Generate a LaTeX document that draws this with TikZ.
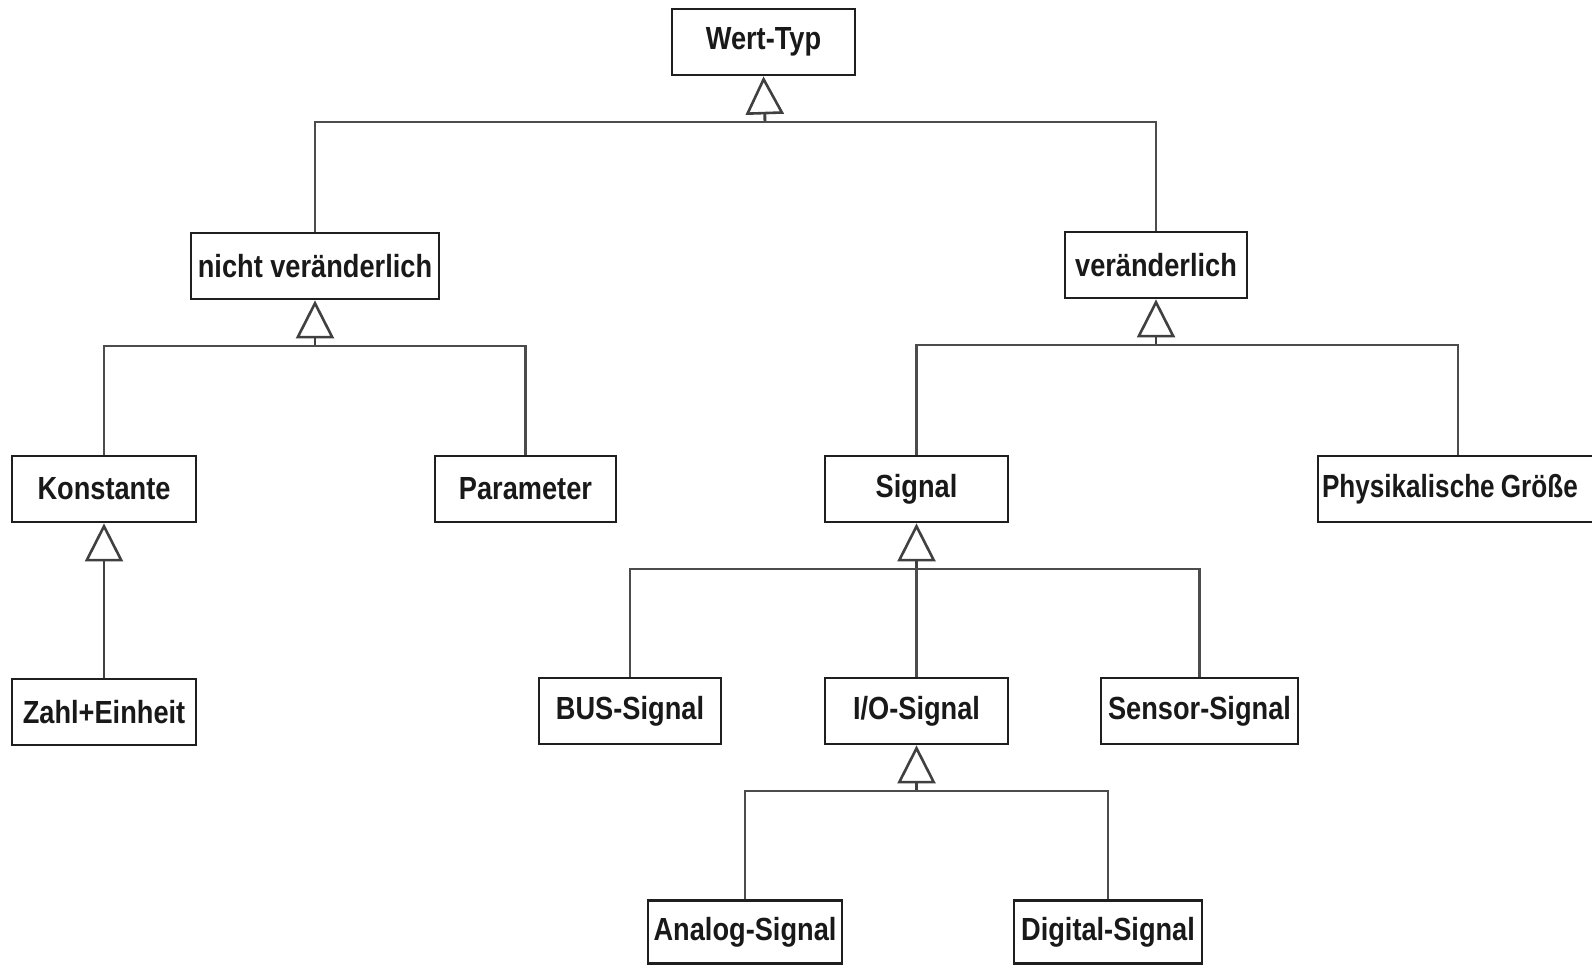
\documentclass[tikz,border=0pt]{standalone}
\usepackage{fontspec}
\setmainfont{Liberation Sans}[FakeStretch=0.85]
\usetikzlibrary{arrows.meta}
\begin{document}
\begin{tikzpicture}[x=1pt,y=-1pt,
  box/.style={draw=black!88,line width=2.8pt,fill=white,inner sep=0pt,minimum height=66pt,
    font=\fontsize{32}{38}\selectfont\bfseries,text=black!90},
  conn/.style={draw=black!70,line width=2.9pt},
  gen/.style={conn,-{Triangle[open,length=38pt,width=38pt,line width=2.6pt]},draw=black!75},
]
\useasboundingbox (0,0) rectangle (1592,965);
\fill[white] (0,0) rectangle (1592,965);
\begin{scope}
\clip (0,0) rectangle (1592,965);
% row 1
\node[box,minimum width=183pt] (wt) at (763.5,42) {Wert-Typ};
% row 2
\node[box,minimum width=248pt] (nv) at (315,266) {nicht veränderlich};
\node[box,minimum width=182pt] (v) at (1156,265) {veränderlich};
% row 3
\node[box,minimum width=184pt] (k) at (104,489) {Konstante};
\node[box,minimum width=181pt] (p) at (525.5,489) {Parameter};
\node[box,minimum width=183pt] (s) at (916.5,489) {Signal};
\node[box,minimum width=280pt,align=left,text width=272pt] (pg) at (1458,489) {\scalebox{0.96}[1]{Physikalische\hspace{0.2em}Größe}};
% row 4
\node[box,minimum width=184pt] (z) at (104,712) {Zahl+Einheit};
\node[box,minimum width=182pt] (bus) at (630,711) {BUS-Signal};
\node[box,minimum width=183pt] (io) at (916.5,711) {I/O-Signal};
\node[box,minimum width=197pt] (sen) at (1199.5,711) {Sensor-Signal};
% row 5
\node[box,minimum width=194pt,minimum height=63pt] (an) at (745,932) {Analog-Signal};
\node[box,minimum width=188pt,minimum height=63pt] (dig) at (1108,932) {Digital-Signal};

% generalisations
\coordinate (b1) at (765,122);
\draw[gen] (b1) -- (wt.south);
\draw[conn] (nv.north) |- (b1) -| (v.north);

\coordinate (b2) at (315,346);
\draw[gen] (b2) -- (nv.south);
\draw[conn] (k.north) |- (b2) -| (p.north);

\coordinate (b3) at (1156,345);
\draw[gen] (b3) -- (v.south);
\draw[conn] (s.north) |- (b3) -| (pg.north);

\draw[gen] (z.north) -- (k.south);

\coordinate (b4) at (916.5,569);
\draw[gen] (b4) -- (s.south);
\draw[conn] (bus.north) |- (b4) -| (sen.north);
\draw[conn] (io.north) -- (b4);

\coordinate (b5) at (916.5,791);
\draw[gen] (b5) -- (io.south);
\draw[conn] (an.north) |- (b5) -| (dig.north);
\end{scope}
\end{tikzpicture}
\end{document}
